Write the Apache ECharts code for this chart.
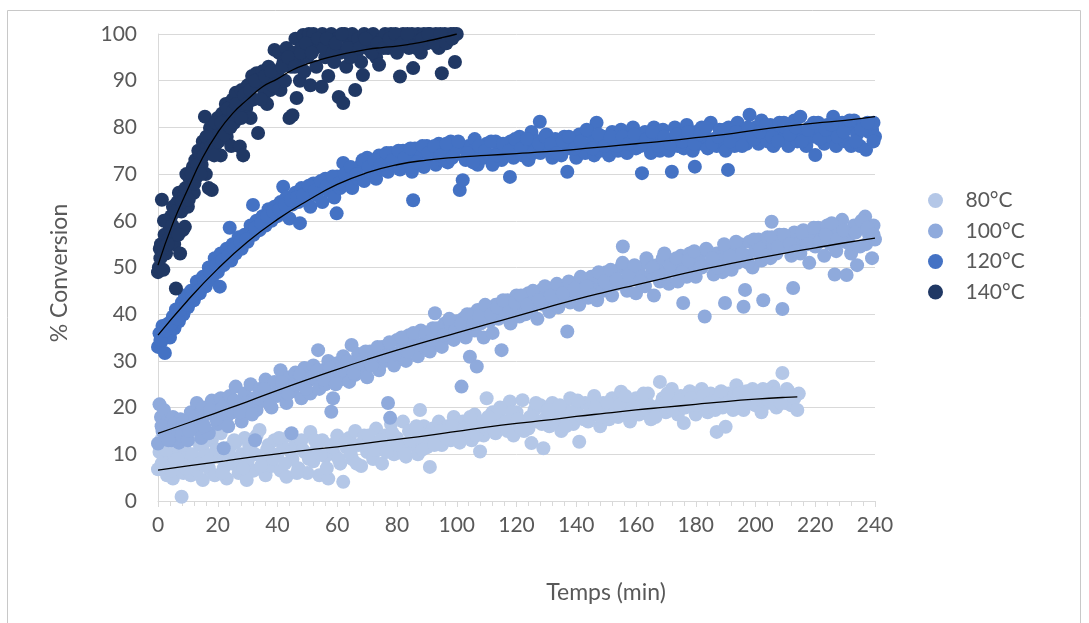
<!DOCTYPE html>
<html><head><meta charset="utf-8">
<script src="https://cdn.jsdelivr.net/npm/echarts@6/dist/echarts.min.js"></script>
<style>html,body{margin:0;padding:0;background:#fff;}#c{width:1089px;height:623px;}</style>
</head><body><div id="c"></div>
<script>
const seriesNames = ['80°C', '100°C', '120°C', '140°C'];
const seriesColors = ['#B4C7E7', '#8FAADC', '#4472C4', '#203864'];
const xTitle = 'Temps (min)';
const yTitle = '% Conversion';

// [time (min), conversion (%)]
const s80 = [[0,6.8],[0.5,10.5],[1,13],[1.5,7],[2,9],[3,5.5],[3.5,12],[4,8],[5,4.8],[5.5,10],[6,7.5],[7,13.5],[7.9,0.9],[8.5,6],[9,11],[10,8.5],[11,5.5],[12,14],[12.5,9],[13,6.5],[14,12],[15,4.5],[16,10],[17,7],[18,13],[19,5.5],[20,9.5],[21,14.5],[22,7],[23,4.8],[24,11.5],[25,8],[26,12.5],[27,6],[28,10],[29,13.5],[29.7,4.5],[30,8.5],[31,11],[32,6.5],[33,14],[34,15.2],[35,9],[36,5.5],[37,12],[38,7.5],[39,13],[40,10],[41,6.5],[42,11.5],[43,5.2],[44,14],[45,9],[46,12],[47,7],[48,13],[49,10.5],[50,6],[51,14.8],[52,8.5],[53,11],[54,5.5],[55,13],[56,9.5],[57,4.8],[58,12],[59,10],[60,14],[61,8],[62,4.1],[63,11.5],[64,13.5],[65,9],[66,15],[67,12],[68,7.5],[69,14],[70,10.5],[71,13],[72,9],[73,15.5],[74,11],[75,8],[76,14],[77,12.5],[78,16.5],[79,10],[80,13.5],[81,11],[82,17],[83,9.5],[84,15],[85,12],[86,14.5],[87,10],[87.7,19.5],[88,13],[89,16],[90,11.5],[91,7.3],[92,15.5],[93,13],[94,17],[95,12],[96,14.5],[97,16],[98,13],[99,18],[100,15],[101,12.5],[102,17],[103,14],[104,16.5],[105,13],[106,18.5],[107,15],[107.8,10.6],[108,17],[109,14],[110,22],[111,16],[112,19],[113,14.5],[114,18],[115,16.5],[116,20],[117,15],[117.8,21.3],[118,17.5],[119,14],[120,19],[121,16],[122,21.6],[123,17],[124,15.5],[125,12.4],[126,19.5],[127,17],[128,20.5],[129,11.3],[130,18],[131,16],[132,21],[133,17.5],[134,19],[135,15],[136,20],[137,18],[138,22],[139,16.5],[140,19.5],[141,12.7],[142,18],[143,21],[144,17],[145,20],[146,22.5],[147,18.5],[148,16],[149,21],[150,19.5],[151,17.5],[152,22],[153,20],[154,18],[155,23.4],[156,19],[157,21.5],[158,17],[159,20.5],[160,22],[161,18.5],[162,21],[163,19.5],[164,23],[165,17.5],[166,20],[168,25.5],[169,22],[170,19],[171,21.5],[172,24],[173,20],[174,18.5],[175,22.5],[176,16.7],[177,21],[178,23.5],[179,20],[180,18.5],[181,22],[182,24],[183,20.5],[184,19],[185,23],[186,21],[187,14.8],[188,22.5],[189,20],[190,15.9],[191,23],[192,21.5],[193.6,24.8],[194,20],[195,22],[196,19.5],[197,23.5],[198,21],[199,24],[200,20.5],[201,22.5],[202,19],[203,23],[204,21],[205,24],[206,24.5],[207,20],[208,22.5],[209,27.4],[210,21],[211,23.5],[212,20.5],[213,22],[214,19.5],[214.5,23]];
const s80b = [[1.2,8],[2.5,11],[4.5,6.5],[6.5,9],[8,12],[9.5,7],[11.5,10],[13.5,8],[15.5,12.5],[17.5,9],[19.5,11],[21.5,6],[23.5,10],[25.5,13],[27.5,9],[28.5,7],[30.5,12],[32.5,10],[34.5,7.5],[36.5,11],[38.5,9],[40.5,13.5],[42.5,8],[44.5,10.5],[46.5,6],[48.5,11],[50.5,9],[52.5,13],[54.5,10],[56.5,7],[58.5,11.5],[60.5,9],[62.5,12.5],[64.5,10],[66.5,8],[68.5,12],[70.5,14],[72.5,11],[74.5,13],[76.5,10.5],[78.5,14.5],[80.5,12],[82.5,10],[84.5,13],[86.5,16],[88.5,11],[90.5,14],[92.5,12],[94.5,15],[96.5,13.5],[98.5,16],[100.5,13],[102.5,15.5],[104.5,18],[106.5,14],[108.5,16],[110.5,18],[112.5,15.5],[114.5,20],[116.5,17],[118.5,19],[120.5,17.5],[122.5,15],[124.5,18],[126.5,21],[128.5,16.5],[130.5,19.5],[132.5,17],[134.5,20.5],[136.5,16],[138.5,19],[140.5,21.5],[142.5,17.5],[144.5,19],[146.5,20],[148.5,18],[150.5,21],[152.5,18.5],[154.5,20.5],[156.5,22.5],[158.5,19],[160.5,20],[162.5,23],[164.5,20.5],[166.5,18],[168.5,21],[170.5,23],[172.5,19.5],[174.5,21.5],[176.5,20],[178.5,22],[180.5,20.5],[182.5,22.5],[184.5,21],[186.5,19.5],[188.5,23.5],[190.5,21],[192.5,19.5],[194.5,23],[196.5,21.5],[198.5,23],[200.5,22],[202.5,24],[204.5,21.5],[206.5,23],[208.5,21],[210.5,24],[212.5,22.5]];

const s100 = [[0,12.3],[0.5,20.7],[1,18],[1.5,15],[2,19.5],[2.5,14],[3,17],[4,16],[4.5,13],[5,18],[6,15],[7,12.5],[7.5,17.5],[8,14],[9,16.5],[10,13],[11,19],[12,15.5],[13,21],[14,17],[14.5,13.5],[15,20],[16,18.5],[17,14.5],[18,21.5],[19,19],[20,16.5],[21,22],[22,11.3],[22.5,20],[23,18],[24,22.5],[25,19],[26,24.5],[27,21],[28,17],[29,23],[30,20.5],[31,25],[32,22],[32.5,13],[33,19.5],[34,24],[35,21.5],[36,26],[37,23],[38,20],[39,25.5],[40,22.5],[41,28],[42,24],[43,21],[44,26.5],[44.7,14.5],[45,23.5],[46,27.5],[47,25],[48,22],[49,28.5],[50,25.5],[51,23],[52,29],[53,26],[53.6,32.3],[54,24],[55,28],[56,25],[57,30],[58,19.1],[58.6,22],[59,27],[60,29.5],[61,26],[62,31],[63,28],[64,25.5],[64.8,33.4],[65,29],[66,27],[67,31.5],[68,28.5],[69,30],[70,26.5],[71,32],[72,29.5],[73,31],[74,28],[75,33],[76,30],[77,21],[77.7,17.8],[78,32],[79,29],[80,34.5],[81,31],[82,33],[83,30],[84,35.5],[85,32.5],[86,34],[87,31],[88,36.5],[89,33],[90,35],[91,32],[92,37],[92.7,40.2],[93,34],[94,36],[95,33],[96,38],[97,35],[98,37.5],[99,34.5],[100,38.5],[101,36],[101.6,24.5],[102,39],[103,35],[104,37.5],[104.4,30.9],[105,40],[106,36.5],[106.7,28.8],[107,40.9],[108,38],[109,35],[110,41],[111,38.5],[112,36],[113,42],[114,39],[115,32.3],[116,40.5],[117,43],[118,38],[119,41.5],[120,44],[121,39.5],[122,42],[123,40],[124,44.5],[125,41],[126,43],[127,39],[128,45],[129,42],[130,44],[131,40.5],[132,45.5],[133,43],[134,41.5],[135,46],[136,44],[137,36.3],[138,42.5],[139,46.5],[140,44.5],[141,42],[142,47],[143,45],[144,43.5],[145,48],[146,45.5],[147,43],[148,47.5],[149,45],[150,49],[151,46],[152,44],[153,48],[154,46.5],[155,50],[155.6,54.5],[156,47],[157,45],[158,49.5],[159,47.5],[160,44.5],[161,50],[162,48],[163,46],[164,51],[165,48.5],[166,44],[167,50.5],[168,47],[169,52],[170,49],[171,46.5],[172,51.5],[173,49.5],[174,47],[175,52.5],[175.8,42.4],[176,50],[177,48],[178,53],[179,50.5],[180,48],[181,52],[182,50],[183,39.5],[184,53.5],[185,51],[186,48.5],[187,53],[188,51.5],[189,49],[189.8,42.4],[190,54],[191,51],[192,49.5],[193,53],[194,51],[195,55],[196,41.6],[196.5,45.2],[197,52.5],[198,55.5],[199,50],[200,53.5],[201,56],[202,51.5],[202.6,43],[203,54],[204,56.5],[205,52],[205.4,59.8],[206,55],[207,53],[208,57],[209,41.1],[210,54.5],[211,56],[212,52.5],[212.6,45.6],[213,57.5],[214,55],[215,53],[216,58],[217,55.5],[218,51],[219,57],[220,54.5],[221,58.5],[222,56],[223,52.5],[224,59],[225,55],[226,57],[226.5,48.5],[227,53.5],[228,58],[229,60.2],[230,55.5],[230.5,48.4],[231,57.5],[232,53],[233,59],[234,50.5],[235,54.5],[236,58.5],[236.7,60.9],[237,55],[238,57],[239,52],[239.5,59],[240,56]];
const s100b = [[1.2,16],[3.5,13],[5.5,16.5],[8.5,17],[10.5,15],[12.5,18],[15.5,16],[17.5,19.5],[19.5,17.5],[21.5,20],[23.5,16],[25.5,21.5],[27.5,19],[29.5,21],[31.5,18.5],[33.5,22],[35.5,24],[37.5,20.5],[39.5,23],[41.5,25.5],[43.5,23],[45.5,25],[47.5,27],[49.5,24],[51.5,26.5],[53.5,28],[55.5,26],[57.5,28.5],[59.5,25],[61.5,28],[63.5,30],[65.5,27.5],[67.5,29.5],[69.5,32],[71.5,29],[73.5,33],[75.5,31],[77.5,34],[79.5,31.5],[81.5,35],[83.5,32],[85.5,36],[87.5,33.5],[89.5,36],[91.5,34.5],[93.5,37],[95.5,35.5],[97.5,39],[99.5,36.5],[101.5,38],[103.5,40],[105.5,38],[107.5,39.5],[109.5,42],[111.5,40],[113.5,41.5],[115.5,43],[117.5,40.5],[119.5,42.5],[121.5,44],[123.5,42],[125.5,45],[127.5,43],[129.5,46],[131.5,44],[133.5,46.5],[135.5,44.5],[137.5,47],[139.5,45.5],[141.5,48],[143.5,46],[145.5,44],[147.5,49],[149.5,47],[151.5,49.5],[153.5,47.5],[155.5,51],[157.5,48.5],[159.5,50.5],[161.5,47],[163.5,52],[165.5,50],[167.5,48],[169.5,53],[171.5,50.5],[173.5,52],[175.5,49],[177.5,51.5],[179.5,53.5],[181.5,50],[183.5,54],[185.5,52],[187.5,50],[189.5,55],[191.5,52.5],[193.5,55.5],[195.5,53],[197.5,51],[199.5,56],[201.5,54],[203.5,52.5],[205.5,56.5],[207.5,54.5],[209.5,57],[211.5,55],[213.5,53.5],[215.5,57.5],[217.5,55],[219.5,58.5],[221.5,55.5],[223.5,57],[225.5,59.5],[227.5,56],[229.5,58],[231.5,55],[233.5,57.5],[235.5,60],[237.5,58.5],[239.5,57]];

const s120 = [[0,33],[0.5,35.9],[1,34],[1.5,37.5],[2.3,31.7],[3,36],[3.5,38],[4,35],[5,39.5],[5.5,37],[6,41],[7,38.5],[8,42.5],[8.5,40],[9,44],[10,41.5],[11,45],[12,43],[13,47],[14,44.5],[15,48],[16,46],[17,50],[18,47.5],[19,52],[20,49],[20.7,45.9],[21,53],[22,50.5],[23,54],[24,58.5],[24.5,51.5],[25,55],[26,53],[27,56.5],[28,54],[29,57],[30,55.5],[31,59],[31.8,63.4],[32,57],[33,60],[34,58],[35,61],[36,59],[37,62.5],[38,60],[39,63],[40,61],[41,64],[41.9,67.3],[42,62],[43,65],[44,60.5],[45,63.5],[46,66],[47,64],[47.5,59.5],[48,67],[49,64.5],[50,66.5],[51,63],[52,68],[53,65.5],[54,67],[55,64],[56,69],[57,66.5],[58,68],[59,65],[59.8,61.6],[60,69.5],[61,67],[62,72.4],[63,68.5],[64,70],[65,67],[66,71],[67,69],[68,72],[69,68.5],[70,73.5],[71,70.5],[72,72],[73,69],[74,74],[75,71],[76,73],[77,70.5],[78,74.5],[79,72],[80,73.5],[81,71],[82,75],[83,72.5],[84,74],[85,70.5],[85.4,64.4],[86,75.5],[87,73],[88,74.5],[89,71.5],[90,76],[91,73.5],[92,75],[93,72],[94,76.5],[95,73],[96,75],[97,72.5],[98,77],[99,74],[100,75.5],[101,66.6],[102,68.7],[103,73],[104,76],[105,74],[106,77.5],[107,72],[108,75],[109,73.5],[110,76.5],[111,74],[112,72],[113,77],[114,75],[115,73],[116,76],[117,74.5],[117.8,69.4],[118,77],[119,73.5],[120,75.5],[121,78],[122,74],[123,76.5],[124,73],[125,79],[126,75],[127,77],[127.8,81.2],[128,74.5],[129,76],[130,78.5],[131,75],[132,73.5],[133,77.5],[134,76],[135,74],[136,78],[137,70.5],[138,75.5],[139,77],[140,73.5],[141,78.5],[142,76],[143,74.5],[144,79],[145,76.5],[146,74],[146.8,81],[147,77.5],[148,75],[149,78],[150,76.5],[151,74],[152,79],[153,77],[154,75],[155,79.5],[156,76],[157,74.5],[158,78.5],[159,80],[160,75.5],[161,77.5],[162,70.2],[163,79],[164,76.5],[165,74.5],[166,80],[167,77],[168,75],[169,79.5],[170,77.5],[171,75],[172,70.5],[173,80],[174,76],[175,78.5],[176,75.5],[177,80.5],[178,77],[179,75],[179.7,71.6],[180,79],[181,76.5],[182,80],[183,78],[184,75.5],[185,81],[186,77.5],[187,76],[188,79.5],[189,77],[190,75],[190.8,70.9],[191,80],[192,78],[193,76],[194,81],[195,77.5],[196,79],[197,76.5],[198,82.7],[199,78],[200,80],[201,76.5],[202,81.5],[203,78.5],[204,77],[205,80.5],[206,76],[207,79.5],[208,81],[209,77.5],[210,80],[211,76],[212,79],[213,81.5],[214,77],[215,82.3],[216,78.5],[217,76],[218,80],[219,78],[220,74.1],[221,81],[222,79],[223,76.5],[224,80.5],[225,78],[226,82.3],[227,76],[228,79.5],[229,81],[230,77],[231,80],[232,76],[233,81.5],[234,78.5],[235,76],[236,80.5],[237,75.2],[238,79],[239,79.4],[239.5,81],[240,78]];
const s120b = [[0.8,34.5],[2.5,36.5],[4.5,38],[6.5,39],[7.5,41],[9.5,42],[11.5,44],[13.5,45],[15.5,47],[17.5,49],[19.5,50.5],[21.5,51.5],[23.5,52.5],[25.5,54],[27.5,55.5],[29.5,56],[32.5,58.5],[34.5,59.5],[36.5,61],[38.5,62],[40.5,62.5],[42.5,63.5],[44.5,64.5],[46.5,65],[48.5,65.5],[50.5,67.5],[52.5,66.5],[54.5,68.5],[56.5,67.5],[58.5,69.5],[60.5,68],[62.5,70],[64.5,71.5],[66.5,70],[68.5,73],[70.5,71.5],[72.5,73],[74.5,72],[76.5,74.5],[78.5,73],[80.5,75],[82.5,73.5],[84.5,75.5],[86.5,72.5],[88.5,76],[90.5,74.5],[92.5,76],[94.5,74],[96.5,76.5],[98.5,73.5],[100.5,77],[103.5,74.5],[105.5,72.5],[107.5,76],[109.5,75],[111.5,77],[113.5,74],[115.5,76.5],[117.5,75],[119.5,77.5],[121.5,75.5],[123.5,77.5],[125.5,74.5],[127.5,76.5],[129.5,78],[131.5,76.5],[133.5,74.5],[135.5,77],[137.5,78],[139.5,75.5],[141.5,77],[143.5,79.5],[145.5,75.5],[147.5,78.5],[149.5,76],[151.5,78],[153.5,76],[155.5,78],[157.5,76.5],[159.5,78.5],[161.5,76],[163.5,77.5],[165.5,79],[167.5,76],[169.5,78],[171.5,76.5],[173.5,78.5],[175.5,77],[177.5,79],[179.5,76.5],[181.5,78.5],[183.5,80],[185.5,76.5],[187.5,78],[189.5,79.5],[191.5,77],[193.5,79],[195.5,76],[197.5,80],[199.5,77.5],[201.5,79],[203.5,80.5],[205.5,78],[207.5,77],[209.5,81],[211.5,78.5],[213.5,80],[215.5,77],[217.5,79.5],[219.5,81],[221.5,77.5],[223.5,79.5],[225.5,80.5],[227.5,78],[229.5,79],[231.5,81.5],[233.5,77],[235.5,79.5],[237.5,81],[239.5,77]];

const s140 = [[0,49],[0.3,50],[0.6,54],[1,55],[1.3,64.5],[1.8,49.5],[2.2,57],[2.7,53],[3,60],[3.5,56],[4,58.5],[4.4,61],[5,63],[5.4,55],[6,45.5],[6.5,64],[7,66],[7.4,53],[7.8,62],[8.3,58],[8.8,65.5],[9,58.7],[9.5,70],[10,63],[10.6,69],[11,67],[11.7,71.6],[12,66],[12.5,73],[13,69.5],[13.5,75],[14,74.5],[14.6,72],[15,77],[15.7,82.3],[16,70],[16.5,76],[17,67],[17.4,79.9],[18,66.6],[18.5,80],[19,78],[19.6,76.6],[20,82],[20.6,79],[21,74],[21.5,83],[22,80],[22.7,85],[23,78],[23.5,82],[24,84],[24.5,76],[25,86],[25.5,81],[26,87.4],[26.5,83],[27,85],[27.4,75.9],[28,88],[28.5,74],[29,86],[29.5,84],[30,89],[30.5,87],[31,82],[31.5,91],[32,86],[33,91.6],[33.5,78.8],[34,89],[35,92],[35.5,87],[36,90],[36.5,85],[37,93],[37.5,88],[38,91],[39,96.6],[39.5,89],[40,92],[40.5,96],[41,88],[42,94],[42.5,90],[43,97],[44,82],[44.5,93],[45,82.6],[45.5,96],[46,99],[46.4,86.3],[47,94],[47.5,90],[48,97],[48.6,99.8],[49,92],[50,95],[50.5,100],[51,89],[52,100],[52.5,97],[53,93],[54,98],[54.8,88.7],[55,100],[56,95],[57,91],[57.5,98],[58,100],[59,94],[60,99],[60.5,86.5],[61,96],[62,85.2],[62.5,100],[63,93],[64,98],[65,100],[66,88],[66.5,96],[67,99],[68,94],[68.6,91.2],[69,100],[70,97],[71,98],[72,100],[73,95],[74,93.4],[75,99],[76,100],[77,97],[78,100],[79,98],[80,96],[81,90.9],[82,100],[83,99],[84,97],[85,100],[85.4,92.7],[86,99],[87,100],[88,96],[89,100],[90,98],[91,100],[92,99],[93,100],[94,97],[95,91.6],[96,100],[97,99],[98,100],[99,100],[99.4,94],[100,100]];
const s140b = [[0.8,52],[2,60],[3.2,55],[4.8,59],[5.8,62],[6.8,57],[8,64],[9.2,67],[10.3,64.5],[11.3,70],[12.2,68],[13.2,72],[14.3,70],[15.3,74],[16.2,78],[17.8,76],[18.8,74],[19.3,81],[20.3,77],[21.2,81],[22.3,78.5],[23.2,84],[24.2,80],[25.2,83.5],[26.2,85],[27.8,82],[28.8,87],[29.8,85],[30.8,88],[32.5,90],[34.5,86],[35.8,91],[37.8,92],[38.5,89],[41.5,93],[43.5,95],[45.8,93],[47.8,96],[49.5,98],[51.5,96],[53.5,99],[55.5,97],[56.5,99],[58.5,96],[59.5,98],[61.5,100],[63.5,97],[64.5,95],[67.5,97],[69.5,99],[71.5,96],[73.5,98],[75.5,97],[77.5,99],[79.5,100],[81.5,98],[83.5,100],[86.5,97],[88.5,99],[90.5,100],[92.5,98],[94.5,100],[96.5,98],[98.5,99]];

// trend lines
const trend80 = [[0,6.6],[10,7.5],[20,8.4],[30,9.3],[40,10.1],[50,10.9],[60,11.6],[70,12.4],[80,13.2],[90,14],[100,14.9],[110,15.8],[120,16.6],[130,17.3],[140,18.1],[150,18.8],[160,19.5],[170,20.1],[180,20.7],[190,21.3],[200,21.8],[210,22.2],[214,22.3]];
const trend100 = [[0,14.5],[10,16.7],[20,19],[30,21.3],[40,23.7],[50,26],[60,28.2],[70,30.3],[80,32.3],[90,34.2],[100,36],[110,37.8],[120,39.6],[130,41.4],[140,43.2],[150,44.8],[160,46.3],[170,47.8],[180,49.3],[190,50.6],[200,51.9],[210,53.1],[220,54.2],[230,55.3],[240,56.3]];
const trend120 = [[0,35.5],[10,43],[20,49.7],[30,55.5],[40,60.3],[50,64.3],[60,67.8],[70,70.3],[80,72],[90,73],[100,73.6],[110,74],[120,74.4],[130,74.8],[140,75.3],[150,75.9],[160,76.5],[170,77.1],[180,77.8],[190,78.5],[200,79.4],[210,80.2],[220,80.9],[230,81.5],[240,82.3]];
const trend140 = [[0,50.5],[5,59.5],[10,66.8],[15,73.6],[20,78.9],[25,83],[30,86],[35,88.7],[40,90.4],[45,92.3],[50,93.6],[55,94.6],[60,95.4],[65,96.1],[70,96.7],[75,97.1],[80,97.4],[85,97.9],[90,98.5],[95,99.2],[100,100]];

const pointSets = [s80.concat(s80b), s100.concat(s100b), s120.concat(s120b), s140.concat(s140b)];
const trendSets = [trend80, trend100, trend120, trend140];

const chart = echarts.init(document.getElementById('c'), null, {renderer: 'canvas'});
const FONT = 'Lato';
const series = [];
pointSets.forEach((d, i) => {
  series.push({
    name: seriesNames[i], type: 'scatter', data: d, symbol: 'circle', symbolSize: 14,
    itemStyle: {color: seriesColors[i], opacity: 1}, z: 2 + i, emphasis: {disabled: true}
  });
});
trendSets.forEach((d, i) => {
  series.push({
    name: 'trend' + i, type: 'line', data: d, smooth: true, showSymbol: false, symbol: 'none',
    lineStyle: {color: '#000', width: 1.3}, z: 10, silent: true, legendHoverLink: false
  });
});

chart.setOption({
  animation: false,
  backgroundColor: '#fff',
  textStyle: {fontFamily: FONT},
  grid: {left: 158, right: 214, top: 34, bottom: 122},
  legend: {
    data: seriesNames, orient: 'vertical', left: 923, top: 185,
    itemWidth: 50, itemHeight: 15, itemGap: 9.5, icon: 'circle',
    textStyle: {fontFamily: FONT, fontSize: 21, color: '#595959', lineHeight: 20}
  },
  xAxis: {
    type: 'value', min: 0, max: 240, interval: 20,
    axisLine: {show: true, lineStyle: {color: '#d9d9d9', width: 1}},
    axisTick: {show: true, length: 6, lineStyle: {color: '#d9d9d9'}},
    minorTick: {show: true, splitNumber: 5, length: 5, lineStyle: {color: '#d9d9d9'}},
    splitLine: {show: false},
    axisLabel: {fontFamily: FONT, fontSize: 21, color: '#595959', margin: 14}
  },
  yAxis: {
    type: 'value', min: 0, max: 100, interval: 10,
    axisLine: {show: true, lineStyle: {color: '#d9d9d9', width: 1}},
    axisTick: {show: false},
    splitLine: {show: true, lineStyle: {color: '#d9d9d9', width: 1}},
    axisLabel: {fontFamily: FONT, fontSize: 21, color: '#595959', margin: 21}
  },
  graphic: [
    {type: 'rect', shape: {x: 7.5, y: 10.5, width: 1073, height: 640}, style: {fill: 'none', stroke: '#c8c8c8', lineWidth: 1}, silent: true, z: -1},
    {type: 'text', x: 606, y: 593, style: {text: xTitle, font: '23px Lato', fill: '#595959', textAlign: 'center', textVerticalAlign: 'middle'}},
    {type: 'text', x: 60, y: 273, rotation: Math.PI / 2, style: {text: yTitle, font: '23px Lato', fill: '#595959', textAlign: 'center', textVerticalAlign: 'middle'}}
  ],
  series: series
});
</script></body></html>
